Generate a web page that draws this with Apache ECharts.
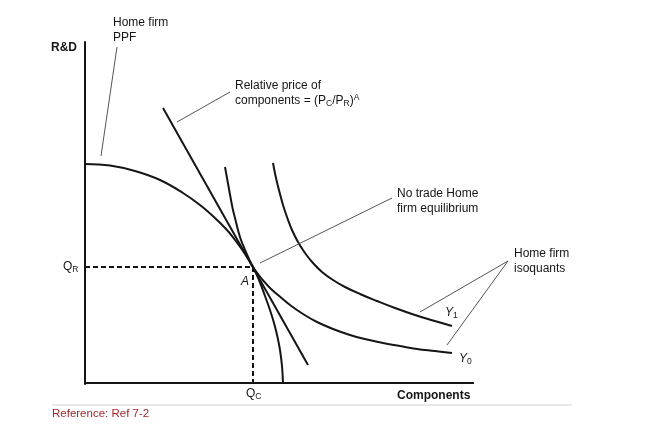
<!DOCTYPE html>
<html>
<head>
<meta charset="utf-8">
<script src="https://cdn.jsdelivr.net/npm/echarts@6/dist/echarts.min.js"></script>
<style>
html,body{margin:0;padding:0;background:#fff;}
#main{width:650px;height:428px;}
</style>
</head>
<body>
<div id="main"></div>
<script>
// values (x = components, y = R&D, arbitrary units)
var xEnd = 389, yMax = 341;
var ppf = [[0,219],[25,217.5],[50,212],[75,203],[98,190],[115,178],[130,165],[142,153],[150,143],[158,132],[168,116],[174,103],[180,87],[185,73],[189,60],[192.5,46],[195,33],[197,17],[198,0]];
var priceLine = [[78,275],[223,18]];
var isoY0 = [[140,216],[142,205],[144,194],[146,183],[148,173],[150.5,163],[153,153],[156,143],[160,133],[164,124],[168,116],[173,109],[179,101.5],[185,95],[193,88],[205,78],[218,69],[232,61],[248,54],[265,48],[282,43.5],[298,40],[315,37],[332,34],[350,32],[367,30]];
var isoY1 = [[188,220],[191,205],[194.5,191],[198,178],[202,166],[207,153],[213,141],[220,130],[228,120],[237,111],[248,103],[260,96],[275,89],[292,82],[310,75],[330,68],[348,62.5],[367,57]];
var pointA = [168,116];
// label pointer lines
var ppfPointer = [[32,336],[16,227]];
var pricePointer = [[92,261],[145,291]];
var eqPointer = [[175,120],[307,185]];
var isoPointer = [[335,71],[423,122],[362,38]];

var font = 'Liberation Sans, Arial, Helvetica, sans-serif';
var ink = '#151515';

function curve(d, w){
  return {type:'line', data:d, smooth:0.4, symbol:'none', silent:true,
    lineStyle:{color:ink, width:w || 2}};
}
function pointer(d){
  return {type:'line', data:d, symbol:'none', silent:true,
    lineStyle:{color:'#555', width:1}};
}
function dashed(d){
  return {type:'line', data:d, symbol:'none', silent:true,
    lineStyle:{color:ink, width:2, type:[5,3]}};
}
var rich = {
  b:{fontFamily:font, fontSize:12, lineHeight:15, fill:ink, color:ink},
  i:{fontFamily:font, fontSize:12, lineHeight:15, fontStyle:'italic', fill:ink, color:ink},
  s:{fontFamily:font, fontSize:8.5, lineHeight:9, padding:[6,0,0,0], fill:ink, color:ink},
  u:{fontFamily:font, fontSize:8.5, lineHeight:9, padding:[0,0,6,0], fill:ink, color:ink}
};
function txt(left, top, text, extra){
  var st = {text:text, rich:rich, font:'12px '+font, fill:ink, lineHeight:15};
  for (var k in (extra||{})) st[k] = extra[k];
  return {type:'text', left:left, top:top, silent:true, style:st};
}

var chart = echarts.init(document.getElementById('main'));
chart.setOption({
  animation:false,
  backgroundColor:'#fff',
  grid:{left:85, right:125, top:42, bottom:44},
  xAxis:{type:'value', min:0, max:440, axisLine:{show:false},
    axisTick:{show:false}, axisLabel:{show:false}, splitLine:{show:false}},
  yAxis:{type:'value', min:-1, max:yMax, axisLine:{show:true, lineStyle:{color:ink, width:2}},
    axisTick:{show:false}, axisLabel:{show:false}, splitLine:{show:false}},
  series:[
    curve([[0,0],[xEnd,0]]),
    dashed([[0,pointA[1]],pointA]),
    dashed([pointA,[pointA[0],0]]),
    curve(ppf),
    curve(priceLine),
    curve(isoY0),
    curve(isoY1),
    pointer(ppfPointer),
    pointer(pricePointer),
    pointer(eqPointer),
    pointer(isoPointer)
  ],
  graphic:[
    txt(51, 40, 'R&D', {font:'bold 12px '+font}),
    txt(113, 15, 'Home firm\nPPF'),
    txt(235, 78, '{b|Relative price of}\n{b|components = (P}{s|C}{b|/P}{s|R}{b|)}{u|A}'),
    txt(397, 186, 'No trade Home\nfirm equilibrium'),
    txt(514, 246, 'Home firm\nisoquants'),
    txt(63, 259, '{b|Q}{s|R}'),
    txt(246, 386, '{b|Q}{s|C}'),
    txt(241, 274, '{i|A}'),
    txt(445, 305, '{i|Y}{s|1}'),
    txt(459, 351, '{i|Y}{s|0}'),
    txt(397, 388, 'Components', {font:'bold 12px '+font}),
    {type:'line', silent:true, shape:{x1:52, y1:405, x2:572, y2:405}, style:{stroke:'#d0d0d0', lineWidth:1}},
    txt(52, 406, 'Reference: Ref 7-2', {fill:'#a3272c', font:'11.5px '+font})
  ]
});
</script>
</body>
</html>
